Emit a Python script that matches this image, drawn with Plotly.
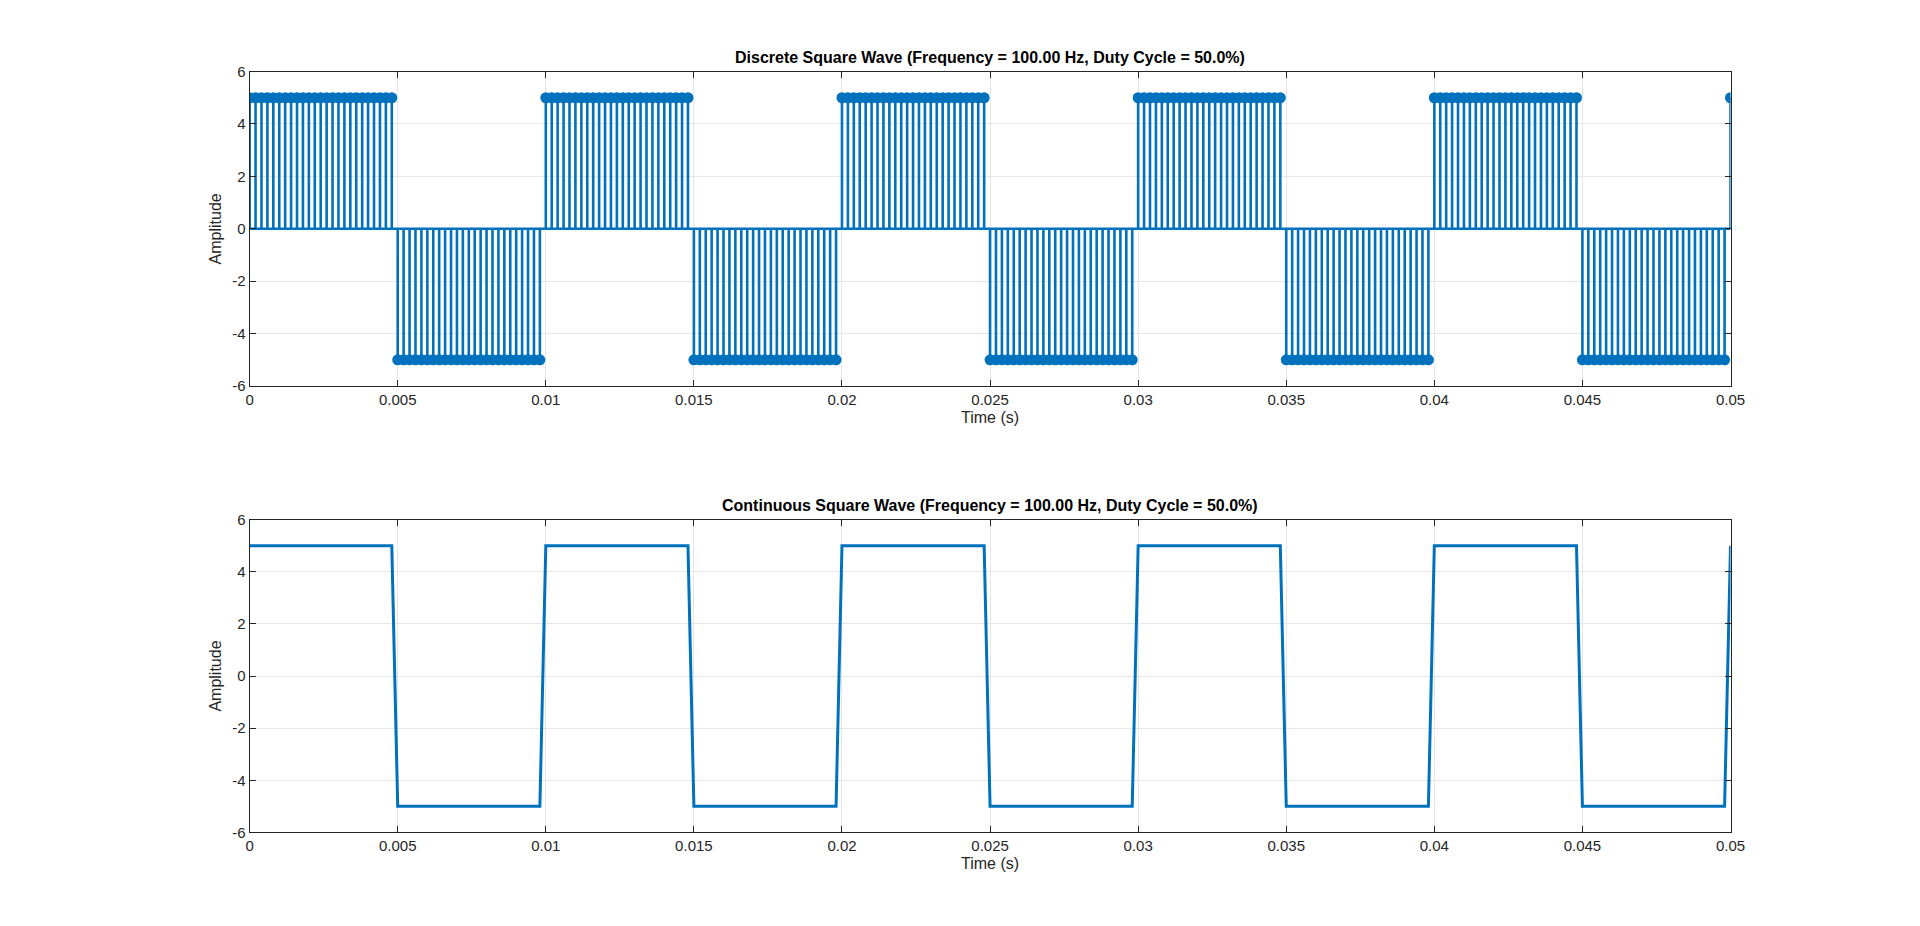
import numpy as np
import plotly.graph_objects as go
from plotly.subplots import make_subplots

fs = 5000  # sample rate (Hz)
t = np.arange(251) / fs
amplitude = ([5] * 25 + [-5] * 25) * 5 + [5]

title_d = "<b>Discrete Square Wave (Frequency = 100.00 Hz, Duty Cycle = 50.0%)</b>"
title_c = "<b>Continuous Square Wave (Frequency = 100.00 Hz, Duty Cycle = 50.0%)</b>"
blue = "#0072BD"

fig = make_subplots(rows=2, cols=1)

# stems
sx, sy = [], []
for xi, yi in zip(t, amplitude):
    sx += [xi, xi, None]
    sy += [0, yi, None]
fig.add_trace(go.Scatter(x=sx, y=sy, mode="lines", line=dict(color=blue, width=2.6),
                         showlegend=False), row=1, col=1)
fig.add_trace(go.Scatter(x=[t[0], t[-1]], y=[0, 0], mode="lines",
                         line=dict(color=blue, width=2.6), showlegend=False), row=1, col=1)
fig.add_trace(go.Scatter(x=t, y=amplitude, mode="markers",
                         marker=dict(color=blue, size=11), showlegend=False), row=1, col=1)
fig.add_trace(go.Scatter(x=t, y=amplitude, mode="lines", line=dict(color=blue, width=3),
                         showlegend=False), row=2, col=1)

ax = dict(showline=True, linecolor="#262626", linewidth=1, mirror="ticks", ticks="inside",
          ticklen=6, tickcolor="#262626", showgrid=True, gridcolor="#e6e6e6", zeroline=False,
          tickfont=dict(size=15, color="#262626"),
          title_font=dict(size=16, color="#262626"))
xvals = [round(0.005 * i, 3) for i in range(11)]
xtext = ["0"] + [f"{v:g}" for v in xvals[1:]]
yvals = list(range(-6, 7, 2))
ytext = [str(v) for v in yvals]
for r, dom in ((1, [0.594, 0.940]), (2, [0.103, 0.447])):
    fig.update_xaxes(ax, range=[0, 0.05], tickvals=xvals, ticktext=xtext,
                     title_text="Time (s)", title_standoff=4, row=r, col=1)
    fig.update_yaxes(ax, range=[-6, 6], tickvals=yvals, ticktext=ytext,
                     title_text="Amplitude", title_standoff=6, domain=dom, row=r, col=1)
fig.update_xaxes(domain=[0.125, 0.904])

fig.update_layout(
    width=1920, height=926, plot_bgcolor="white", paper_bgcolor="white",
    margin=dict(l=0, r=0, t=0, b=0),
    font=dict(family="Liberation Sans, Arial, sans-serif", color="#262626"),
    annotations=[
        dict(text=title_d, x=0.5145, y=0.940, xref="paper", yref="paper", yanchor="bottom",
             yshift=4, showarrow=False, font=dict(size=16, color="black")),
        dict(text=title_c, x=0.5145, y=0.447, xref="paper", yref="paper", yanchor="bottom",
             yshift=4, showarrow=False, font=dict(size=16, color="black")),
    ],
)
fig.write_html("out.html")
